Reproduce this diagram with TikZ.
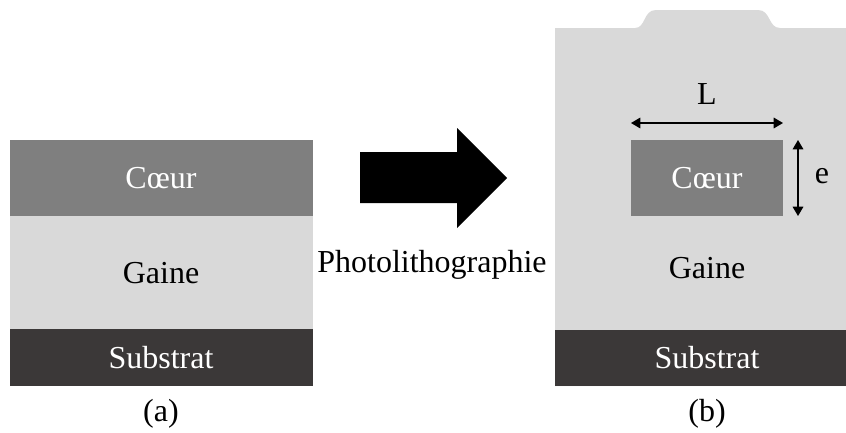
\documentclass[tikz,border=0pt]{standalone}
\usepackage{fontspec}
\setmainfont{Liberation Serif}
\usepackage{xcolor}
\usepackage{tikz}
\usetikzlibrary{arrows.meta}
\definecolor{coeurgray}{HTML}{7F7F7F}
\definecolor{gainegray}{HTML}{D9D9D9}
\definecolor{substdark}{HTML}{3B3838}
\tikzset{
  coeurlayer/.style={fill=coeurgray},
  gainelayer/.style={fill=gainegray},
  substlayer/.style={fill=substdark},
  lighttxt/.style={text=white, inner sep=0pt},
  darktxt/.style={text=black, inner sep=0pt},
  dim/.style={{Triangle[length=7pt,width=8pt]}-{Triangle[length=7pt,width=8pt]}, line width=0.9pt, draw=black},
}

\begin{document}
\begin{tikzpicture}[x=0.75pt,y=-0.75pt, every node/.style={font=\fontsize{24}{28}\selectfont}]
\useasboundingbox (0,0) rectangle (846,432);
% (a) empilement avant photolithographie
\fill[coeurlayer] (10,140) rectangle (313,216);
\fill[gainelayer] (10,216) rectangle (313,329);
\fill[substlayer] (10,329) rectangle (313,386);
\node[lighttxt] (coeurA) at (161,178) {Cœur};
\node[darktxt]  (gaineA) at (161,273) {Gaine};
\node[lighttxt] (substA) at (161,358) {Substrat};
\node[darktxt]  (capA)   at (161,414) {(a)};
% fleche
\fill[black] (360,152) -- (457,152) -- (457,128) -- (507,178) -- (457,228) -- (457,203) -- (360,203) -- cycle;
\node[darktxt, anchor=base] (photo) at (432,272) {Photolithographie};
% (b) guide apres photolithographie
\fill[gainelayer] (555,28) -- (635,28) .. controls (646,28) and (643,10) .. (656,10) -- (758,10) .. controls (771,10) and (768,28) .. (780,28) -- (846,28) -- (846,386) -- (555,386) -- cycle;
\fill[coeurlayer] (631,140) rectangle (783,216);
\fill[substlayer] (555,330) rectangle (846,386);
\node[lighttxt] (coeurB) at (707,178) {Cœur};
\node[darktxt]  (gaineB) at (707,268) {Gaine};
\node[lighttxt] (substB) at (707,358) {Substrat};
\node[darktxt]  (capB)   at (707,414) {(b)};
% cotes
\coordinate (Lg) at (631,123);
\coordinate (Ld) at (783,123);
\coordinate (eh) at (798,140);
\coordinate (eb) at (798,216);
\draw[dim] (Lg) -- (Ld);
\draw[dim] (eh) -- (eb);
\node[darktxt] (lblL) at (707,94) {L};
\node[darktxt] (lble) at (822,176) {e};
\end{tikzpicture}
\end{document}
